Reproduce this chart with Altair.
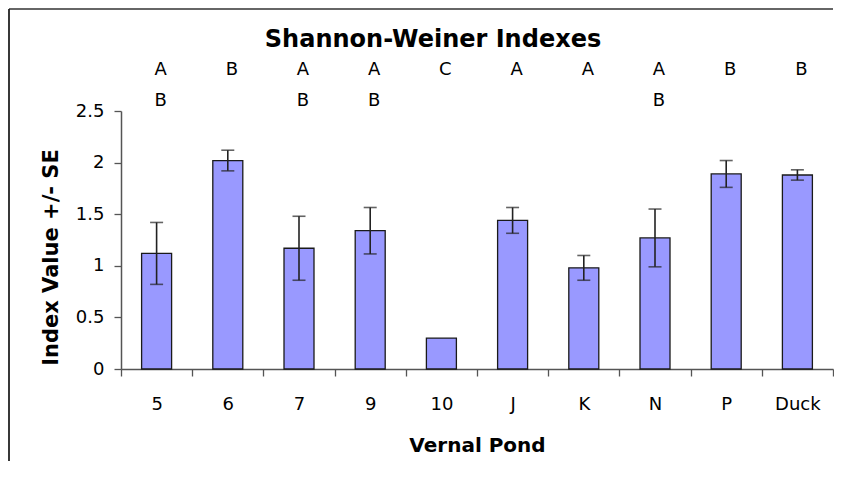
import altair as alt
import pandas as pd

ponds = ["5", "6", "7", "9", "10", "J", "K", "N", "P", "Duck"]
means = [1.12, 2.02, 1.17, 1.34, 0.30, 1.44, 0.98, 1.27, 1.89, 1.88]
ses = [0.30, 0.10, 0.31, 0.225, None, 0.125, 0.12, 0.28, 0.13, 0.05]
letters_top = ["A", "B", "A", "A", "C", "A", "A", "A", "B", "B"]
letters_bottom = ["B", "", "B", "B", "", "", "", "B", "", ""]
title_text = "Shannon-Weiner Indexes"
y_ticks = [0, 0.5, 1, 1.5, 2, 2.5]

FONT = "DejaVu Sans"

rows = []
for p, m, s, a, b in zip(ponds, means, ses, letters_top, letters_bottom):
    rows.append({
        "pond": p, "value": m, "se": s,
        "lo": (m - s) if s is not None else None,
        "hi": (m + s) if s is not None else None,
        "l1": a, "l2": b,
    })
df = pd.DataFrame(rows)
tdf = pd.DataFrame({"t": [title_text]})

x_enc = alt.X(
    "pond:N", sort=ponds,
    scale=alt.Scale(paddingInner=0, paddingOuter=0),
    axis=alt.Axis(
        title="Vernal Pond", labelAngle=0, labelFont=FONT, labelFontSize=18,
        labelColor="black", labelPadding=19, labelBaseline="top",
        tickBand="extent", tickSize=7, tickColor="#555", tickWidth=1.3,
        domainColor="#555", domainWidth=1.5,
        titleFont=FONT, titleFontSize=20, titleFontWeight="bold",
        titleColor="black", titleY=82, titleBaseline="alphabetic",
        grid=False,
    ),
)

y_scale = alt.Scale(domain=[0, 2.5], nice=False, zero=True)

bars = alt.Chart(df).mark_bar(
    width=30, fill="#9999FF", stroke="#1a1a1a", strokeWidth=1.3
).encode(
    x=x_enc,
    y=alt.Y(
        "value:Q", scale=y_scale,
        axis=alt.Axis(
            values=y_ticks, format="~g", title="Index Value +/- SE",
            labelFont=FONT, labelFontSize=18, labelColor="black",
            labelPadding=10, tickSize=7, tickColor="#555", tickWidth=1.3,
            domainColor="#555", domainWidth=1.5, grid=False,
            titleFont=FONT, titleFontSize=21, titleFontWeight="bold",
            titleColor="black", titleX=-64, titleY=146,
            titleBaseline="alphabetic", titleAlign="center",
        ),
    ),
)

err = alt.Chart(df).transform_filter("isValid(datum.se)").mark_rule(
    color="#222", strokeWidth=1.6
).encode(x=alt.X("pond:N", sort=ponds), y="lo:Q", y2="hi:Q")

cap_lo = alt.Chart(df).transform_filter("isValid(datum.se)").mark_tick(
    color="#222", size=13, thickness=1.6
).encode(x=alt.X("pond:N", sort=ponds), y="lo:Q")

cap_hi = alt.Chart(df).transform_filter("isValid(datum.se)").mark_tick(
    color="#222", size=13, thickness=1.6
).encode(x=alt.X("pond:N", sort=ponds), y="hi:Q")

let1 = alt.Chart(df).mark_text(
    font=FONT, fontSize=18, color="black", baseline="middle", dx=4
).encode(x=alt.X("pond:N", sort=ponds), y=alt.value(-41), text="l1:N")

let2 = alt.Chart(df).mark_text(
    font=FONT, fontSize=18, color="black", baseline="middle", dx=4
).encode(x=alt.X("pond:N", sort=ponds), y=alt.value(-10), text="l2:N")

title = alt.Chart(tdf).mark_text(
    font=FONT, fontSize=24, fontWeight="bold", color="black",
    baseline="middle", align="center"
).encode(x=alt.value(312), y=alt.value(-71), text="t:N")

frame_top = alt.Chart(tdf).mark_rule(color="#333", strokeWidth=1.5).encode(
    x=alt.value(-112), x2=alt.value(712), y=alt.value(-102), y2=alt.value(-102)
)
frame_left = alt.Chart(tdf).mark_rule(color="#222", strokeWidth=1.8).encode(
    x=alt.value(-112), x2=alt.value(-112), y=alt.value(-102), y2=alt.value(350)
)

chart = alt.layer(
    bars, err, cap_lo, cap_hi, let1, let2, title, frame_top, frame_left
).properties(
    width=712, height=258,
    padding={"left": 113, "top": 103, "right": 1, "bottom": 92},
    autosize="none",
    background="white",
).configure_view(strokeWidth=0)

chart.save("out.html", embed_options={"renderer": "svg", "actions": False})
